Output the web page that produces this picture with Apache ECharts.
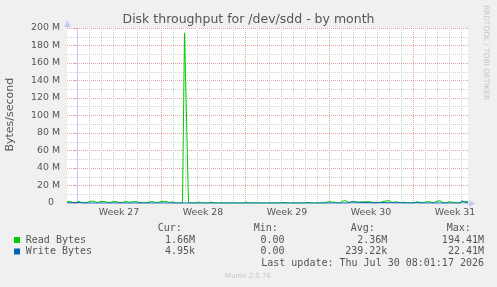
<!DOCTYPE html>
<html><head><meta charset="utf-8">
<script src="https://cdn.jsdelivr.net/npm/echarts@6/dist/echarts.min.js"></script>
<style>html,body{margin:0;padding:0;background:#f0f0f0}#c{width:497px;height:287px}</style>
</head><body><div id="c"></div>
<script>
// ---- data ----
const chartTitle = 'Disk throughput for /dev/sdd - by month';
const yAxisName = 'Bytes/second';
const weekLabels = ['Week 27', 'Week 28', 'Week 29', 'Week 30', 'Week 31'];
// x in hours relative to Monday 00:00 of Week 27
const hourMin = -20, hourMax = 782;
const weekLabelHours = [84, 252, 420, 588, 756];
// values in MB/s: [hour, value]
const readBytes = [
  [-20,1.5],[-14,1.8],[-8,0.3],[-2,0.5],[4,1.6],[10,0.4],[16,0.3],[22,0.8],[28,2.2],[34,1.8],
  [40,0.6],[46,1.5],[52,1.8],[58,1.4],[64,0.4],[70,1.2],[76,1.8],[82,0.9],[88,0.3],[94,1.2],
  [100,1.6],[106,0.8],[112,1.5],[118,1.7],[124,0.6],[130,0.3],[136,0.2],[142,0.6],[148,1.6],[154,1.2],
  [160,0.3],[166,1.4],[172,1.7],[178,2.0],[184,0.6],[190,1.3],[196,0.2],[202,0],[211,0],[215,194.41],
  [223,0.5],[225,2],[228,0],[238,0],[244,1.2],[250,0],[262,0],[268,1.0],[274,0],[334,0],
  [340,1.0],[346,0],[406,0],[412,0.8],[418,0],[456,0],[462,0.8],[468,0],[494,0],[500,1.2],
  [506,1.4],[512,1.2],[520,0.3],[526,0.2],[532,2.3],[538,2.5],[544,0.4],[550,1.2],[556,1.4],[562,0.5],
  [570,1.4],[576,1.2],[582,1.5],[588,1.4],[594,0.3],[600,0.6],[606,0.4],[612,1.8],[618,2.2],[624,2.8],
  [630,0.4],[636,1.2],[642,1.0],[648,0.2],[654,1.0],[660,0.4],[666,0.3],[672,0.2],[678,0.5],[686,1.0],
  [692,0.2],[700,1.5],[706,1.4],[712,0.3],[720,2.0],[726,2.5],[732,0.4],[738,0.2],[744,1.3],[750,1.2],
  [756,0.3],[764,0.2],[770,1.0],[776,1.4],[782,1.66]
];
const writeBytes = [
  [-20,0.1],[6,0.8],[12,0],[98,0],[101,1.2],[106,0],[218,0],[220,0.8],[224,0],[532,0],
  [536,1.0],[540,0],[544,0],[548,1.3],[552,0],[598,0],[602,1.2],[606,0.5],[610,0],[674,0],
  [679,1.5],[684,0],[766,0],[770,2.5],[773,3.5],[776,1.0],[782,0.005]
];
const seriesNames = ['Read Bytes', 'Write Bytes'];
const seriesColors = ['#00cc00', '#0066b3'];
const colHeaders = ['Cur:', 'Min:', 'Avg:', 'Max:'];
const curVals = ['1.66M', '4.95k'];
const minVals = ['0.00', '0.00'];
const avgVals = ['2.36M', '239.22k'];
const maxVals = ['194.41M', '22.41M'];
const lastUpdate = 'Last update: Thu Jul 30 08:01:17 2026';
const footer = 'Munin 2.0.76';
const watermark = 'RRDTOOL / TOBI OETIKER';

// ---- chart ----
(function () {
const hours = [];
for (let h = hourMin; h <= hourMax; h++) hours.push(String(h));

const SANS = 'DejaVu Sans', MONO = 'DejaVu Sans Mono';
const txt = '#555';
const axisCol = '#c5caf5';
const majorGrid = '#e6a0a0';
const minorGrid = '#d2d2d2';

const chart = echarts.init(document.getElementById('c'), null, {renderer: 'canvas'});

const graphic = [];
graphic.push({type: 'text', style: {text: chartTitle, x: 248.5, y: 19.7, font: '12.5px ' + SANS, fill: txt, align: 'center', verticalAlign: 'middle'}});
graphic.push({type: 'text', rotation: Math.PI / 2, x: 10.3, y: 114.7, style: {text: yAxisName, x: 0, y: 0, font: '11px ' + SANS, fill: txt, align: 'center', verticalAlign: 'middle'}});
graphic.push({type: 'text', rotation: -Math.PI / 2, x: 485.6, y: 52.5, style: {text: watermark, x: 0, y: 0, font: '7.4px ' + SANS, fill: '#c4c4c4', align: 'center', verticalAlign: 'middle'}});
const headerX = [157.7, 253.7, 350.7, 446.7];
colHeaders.forEach((t, i) => graphic.push({type: 'text', style: {text: t, x: headerX[i], y: 228.2, font: '10px ' + MONO, fill: txt, align: 'left', verticalAlign: 'middle'}}));
const rowY = [240, 251.5];
const colRight = [195, 284.6, 387.3, 484];
seriesNames.forEach((n, r) => {
  graphic.push({type: 'rect', shape: {x: 14, y: rowY[r] - 3, width: 6, height: 6}, style: {fill: seriesColors[r]}});
  graphic.push({type: 'text', style: {text: n, x: 25.8, y: rowY[r], font: '10px ' + MONO, fill: txt, align: 'left', verticalAlign: 'middle'}});
  [curVals, minVals, avgVals, maxVals].forEach((arr, c) => {
    graphic.push({type: 'text', style: {text: arr[r], x: colRight[c], y: rowY[r], font: '10px ' + MONO, fill: txt, align: 'right', verticalAlign: 'middle'}});
  });
});
graphic.push({type: 'text', style: {text: lastUpdate, x: 484, y: 263.2, font: '10px ' + MONO, fill: txt, align: 'right', verticalAlign: 'middle'}});
graphic.push({type: 'text', style: {text: footer, x: 248, y: 276.4, font: '7px ' + SANS, fill: '#c8c8c8', align: 'center', verticalAlign: 'middle'}});

chart.setOption({
  animation: false,
  backgroundColor: '#f0f0f0',
  grid: {left: 67, right: 29, top: 28, bottom: 84, show: true, backgroundColor: '#ffffff', borderWidth: 0},
  xAxis: [
    {type: 'value', min: hourMin, max: hourMax, position: 'bottom', show: false},
    {type: 'category', data: hours, boundaryGap: false, position: 'bottom',
      axisLine: {show: false}, axisTick: {show: false}, axisLabel: {show: false},
      splitLine: {show: true, interval: (i) => { const h = i + hourMin; return h % 24 === 0 && h % 168 !== 0; },
        lineStyle: {color: minorGrid, type: [1, 1], width: 1}}},
    {type: 'category', data: hours, boundaryGap: false, position: 'bottom',
      axisLine: {show: true, lineStyle: {color: axisCol, width: 1}},
      axisTick: {show: false},
      axisLabel: {show: true, interval: (i) => weekLabelHours.indexOf(i + hourMin) >= 0,
        formatter: (v) => weekLabels[weekLabelHours.indexOf(Number(v))] || '',
        color: txt, fontFamily: SANS, fontSize: 9.4, margin: 5},
      splitLine: {show: true, interval: (i) => (i + hourMin) % 168 === 0, lineStyle: {color: majorGrid, type: [1, 1], width: 1}}}
  ],
  yAxis: {
    type: 'value', min: 0, max: 200, interval: 20,
    axisLine: {show: true, lineStyle: {color: axisCol, width: 1}},
    axisTick: {show: true, length: 3, lineStyle: {color: majorGrid}},
    minorTick: {show: true, splitNumber: 2, length: 2, lineStyle: {color: minorGrid}},
    splitLine: {show: true, lineStyle: {color: majorGrid, type: [1, 1], width: 1}},
    minorSplitLine: {show: true, lineStyle: {color: minorGrid, type: [1, 1], width: 1}},
    axisLabel: {formatter: (v) => v === 0 ? '0  ' : v + ' M', color: txt, fontFamily: SANS, fontSize: 9.4, margin: 7}
  },
  series: [
    {name: seriesNames[0], type: 'line', xAxisIndex: 0, data: readBytes, showSymbol: false, symbol: 'none',
      lineStyle: {color: seriesColors[0], width: 1}, itemStyle: {color: seriesColors[0]}, z: 3},
    {name: seriesNames[1], type: 'line', xAxisIndex: 0, data: writeBytes, showSymbol: false, symbol: 'none',
      lineStyle: {color: seriesColors[1], width: 1}, itemStyle: {color: seriesColors[1]}, z: 4}
  ],
  graphic: graphic
});

// axis arrows placed at the axis ends reported by the library
const pTop = chart.convertToPixel({xAxisIndex: 0, yAxisIndex: 0}, [hourMin, 200]);
const pEnd = chart.convertToPixel({xAxisIndex: 0, yAxisIndex: 0}, [hourMax, 0]);
const yx = Math.round(pTop[0]), yy = Math.round(pTop[1]);
const xx = Math.round(pEnd[0]), xy = Math.round(pEnd[1]);
graphic.push({type: 'line', shape: {x1: yx + 0.5, y1: yy, x2: yx + 0.5, y2: yy - 2}, style: {stroke: axisCol, lineWidth: 1}});
graphic.push({type: 'polygon', shape: {points: [[yx - 3, yy - 1], [yx + 4, yy - 1], [yx + 0.5, yy - 7.5]]}, style: {fill: axisCol}});
graphic.push({type: 'line', shape: {x1: xx, y1: xy + 0.5, x2: xx + 2, y2: xy + 0.5}, style: {stroke: axisCol, lineWidth: 1}});
graphic.push({type: 'polygon', shape: {points: [[xx + 1, xy - 3], [xx + 1, xy + 4], [xx + 7, xy + 0.5]]}, style: {fill: axisCol}});
chart.setOption({graphic: graphic});
})();
</script></body></html>
